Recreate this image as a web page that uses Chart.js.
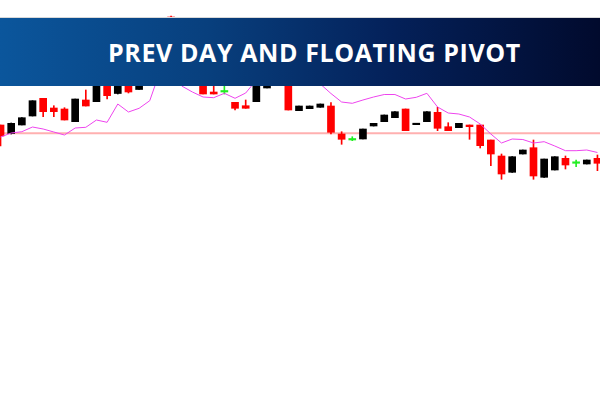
<!DOCTYPE html>
<html>
<head>
<meta charset="utf-8">
<script src="https://cdn.jsdelivr.net/npm/chart.js@4.4.1/dist/chart.umd.min.js"></script>
<style>
  html, body { margin: 0; padding: 0; background: #fff; }
  #wrap { position: relative; width: 600px; height: 400px; overflow: hidden; }
  canvas { display: block; }
  .banner {
    position: absolute; left: 0; top: 17px; width: 600px; height: 68px;
    border-top: 1px solid #d9d9d9;
    background: linear-gradient(to right, #0b569c 0%, #083f7d 35%, #04215a 65%, #010a2d 100%);
  }
  .banner span {
    position: absolute; left: 108px; top: 17px; line-height: 25px;
    font: 700 25px 'Open Sans', sans-serif; letter-spacing: 0.6px;
    color: #fff; white-space: nowrap;
  }
</style>
</head>
<body>
<div id="wrap">
  <canvas id="c" width="600" height="400"></canvas>
  <div class="banner"><span>PREV DAY AND FLOATING PIVOT</span></div>
</div>
<script>
/* price units are arbitrary (no axis shown); one candle per bar index */
var opens  = [275, 266.5, 275, 284, 301.7, 292, 291, 278.3, 300, 298.3,
              320, 306.5, 322, 310.5, 328, 340, 383, 350, 330, 342,
              308, 308, 297.7, 294.3, 298.3, 312, 325, 338, 289.3, 291.3,
              292.7, 294, 266, 260, 261, 274, 278.3, 282.3, 291, 275.3,
              278.3, 287.7, 273.3, 272.3, 275, 275, 260, 244, 227.7, 246,
              252.3, 222.7, 230, 241.7, 236.7, 236, 241.7];
var highs  = [275, 277, 282.3, 299.3, 301.7, 294.3, 292.3, 301, 310, 324,
              322, 328, 324, 334, 348, 378, 384, 354, 350, 345,
              316, 316, 297.7, 300, 338, 340, 342, 342, 294, 294,
              296, 297.3, 268.3, 263.3, 271, 276.7, 285, 288.3, 291, 276.3,
              288.3, 292.7, 277.3, 276.7, 275, 275, 260, 246, 243.3, 250,
              260, 241, 243.3, 244, 240, 240, 245];
var lows   = [254, 266, 275, 284, 283.3, 283.3, 280, 278.3, 294, 298.3,
              301, 306, 307, 310.5, 324, 338, 344, 330, 326, 306,
              306, 306, 290, 291.7, 298.3, 312, 322, 290, 289.3, 291.3,
              292.7, 266, 255.7, 259.3, 261, 274, 278.3, 282.3, 269.3, 275.3,
              278.3, 269.3, 269.3, 272.3, 260.7, 252, 234.3, 220.7, 227.7, 246,
              220.7, 222.7, 230, 231, 233.3, 236, 229.3];
var closes = [264, 276.7, 282.3, 299.3, 288.3, 288.3, 280, 301, 294, 322,
              304.3, 325, 308, 330, 345, 375, 350, 334, 345, 306,
              306, 308, 291.7, 291.7, 330, 328, 338, 290, 294, 294,
              296, 267.7, 260.7, 260, 271, 276.7, 285, 288.3, 269.3, 276.3,
              288.3, 271.7, 269.3, 276.7, 273.3, 254.3, 246, 226, 243.3, 250,
              224, 241, 243.3, 235, 236.7, 240, 236.7];
// floating pivot, one value per bar
var pivot  = [263, 267, 268.3, 273, 271, 268, 265, 272, 272.7, 280,
              277.7, 296, 288, 291.7, 299.3, 330, 340, 314, 308, 303,
              302.3, 306.7, 301.7, 307, 320, 330, 335, 335, 330, 322,
              316, 306.5, 298, 296.7, 300, 303, 305.5, 305.5, 301, 302.7,
              306.7, 293, 287, 286, 283, 276, 266, 257, 261, 260.5,
              257, 258.3, 254, 249.3, 249.3, 250, 247.5];
var prevDayPivot = 266.7;

var UP = '#000000', DOWN = '#ff0000', DOJI = '#22ee22';
var PIVOT = '#ee44ee', PREV = '#ffb0b0';

function colorOf(i) {
  if (closes[i] > opens[i]) return UP;
  if (closes[i] < opens[i]) return DOWN;
  return DOJI;
}

var bodies = [], wicks = [], pivotPts = [], colors = [];
opens.forEach(function (o, i) {
  bodies.push({ x: i, y: [o, closes[i]] });
  wicks.push({ x: i, y: [lows[i], highs[i]] });
  pivotPts.push({ x: i, y: pivot[i] });
  colors.push(colorOf(i));
});
var lastX = opens.length;

new Chart(document.getElementById('c'), {
  type: 'bar',
  data: {
    datasets: [
      {
        type: 'line', order: 10,
        data: [{ x: -1, y: prevDayPivot }, { x: lastX, y: prevDayPivot }],
        borderColor: PREV, borderWidth: 2, pointRadius: 0
      },
      {
        order: 5, grouped: false,
        data: wicks, backgroundColor: colors,
        barThickness: 1, borderWidth: 0, minBarLength: 1
      },
      {
        order: 4, grouped: false,
        data: bodies, backgroundColor: colors,
        barThickness: 7, borderWidth: 0, minBarLength: 1.5
      },
      {
        type: 'line', order: 1,
        data: pivotPts, borderColor: PIVOT, borderWidth: 1,
        pointRadius: 0, tension: 0
      }
    ]
  },
  options: {
    responsive: false,
    animation: false,
    layout: { padding: 0 },
    plugins: { legend: { display: false }, tooltip: { enabled: false } },
    scales: {
      x: { type: 'linear', display: false, min: -0.05, max: 56.24, offset: false },
      y: { display: false, min: 0, max: 400 }
    }
  }
});
</script>
</body>
</html>
